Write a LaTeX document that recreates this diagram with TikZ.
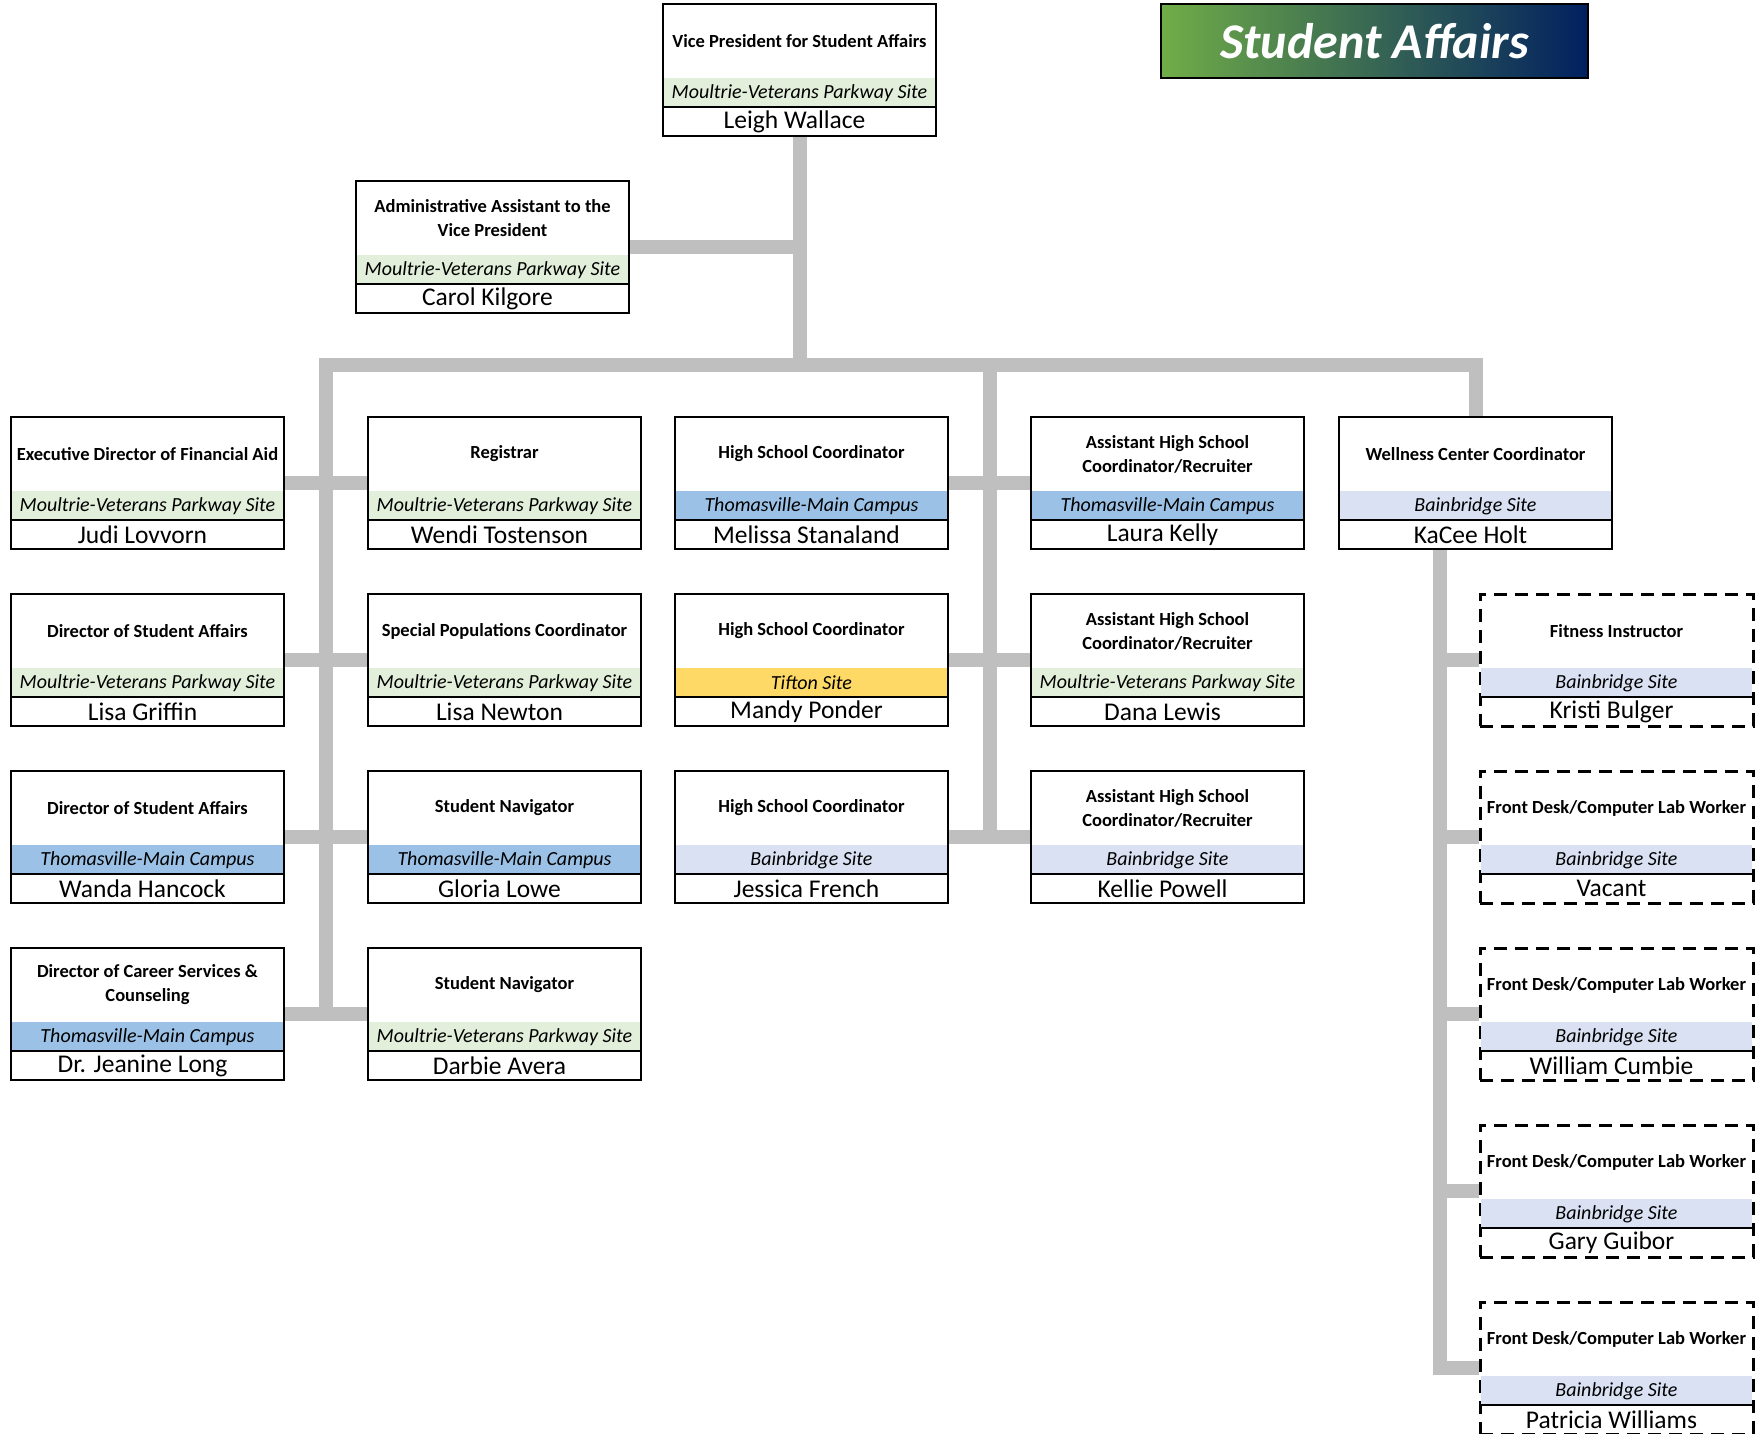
\documentclass[tikz,border=0pt]{standalone}
\usepackage{fontspec}
\setmainfont{Carlito}
\usetikzlibrary{positioning}

\definecolor{sitegreen}{HTML}{E2EFDA}
\definecolor{siteblue}{HTML}{9BC2E6}
\definecolor{sitelav}{HTML}{D9E1F2}
\definecolor{siteyellow}{HTML}{FFD966}
\definecolor{linkgray}{HTML}{BFBFBF}
\definecolor{bannergreen}{HTML}{70AD47}
\definecolor{bannernavy}{HTML}{002060}

\pgfdeclarelayer{bg}
\pgfsetlayers{bg,main}

\tikzset{
  staffframe/.style={draw, fill=white, line width=2.2pt, minimum width=273pt,
    minimum height=132pt, inner sep=0pt},
  dashedframe/.style={line width=3pt, dash pattern=on 13pt off 8pt},
  jobtitle/.style={font=\bfseries\fontsize{18.5}{24}\selectfont, align=center, inner sep=0pt},
  sitename/.style={font=\itshape\fontsize{20}{22}\selectfont, inner sep=0pt},
  personname/.style={font=\fontsize{25.5}{30}\selectfont, inner sep=0pt},
  link/.style={draw=linkgray, line width=14pt},
  banner/.style={draw, line width=2pt, left color=bannergreen, right color=bannernavy,
    minimum width=427pt, minimum height=74pt, text=white,
    font=\bfseries\itshape\fontsize{50}{56}\selectfont}
}

% #1 frame style, #2 name, (#3,#4) top left corner, #5 title, #6 site colour, #7 site, #8 person
\newcommand{\staffbox}[8][]{%
  \node[staffframe,#1] (#2) at (#3+136.5,#4+66) {};
  \fill[#6] (#3+1.2,#4+74) rectangle (#3+271.8,#4+103);
  \draw[line width=2pt] (#3,#4+103) -- (#3+273,#4+103);
  \node[jobtitle] (#2-title) at (#3+136.5,#4+37) {#5};
  \node[sitename] (#2-site) at (#3+136.5,#4+89) {#7};
  \node[personname] (#2-name) at (#3+131.5,#4+117.5) {#8};
}

\begin{document}
\begin{tikzpicture}[x=1pt,y=-1pt]
  \begin{pgfonlayer}{bg}
    \fill[white] (0,0) rectangle (1756,1434);
  \end{pgfonlayer}
  \useasboundingbox (0,0) rectangle (1756,1434);

  % banner
  \node[banner] (banner) at (1374.5,41.5) {Student Affairs};

  % vice president and assistant
  \staffbox{vp}{663}{4}{Vice President for Student Affairs}{sitegreen}{Moultrie-Veterans Parkway Site}{Leigh Wallace}
  \staffbox{asst}{356}{181}{Administrative Assistant to the\\Vice President}{sitegreen}{Moultrie-Veterans Parkway Site}{Carol Kilgore}

  % first row
  \staffbox{finaid}{11}{417}{Executive Director of Financial Aid}{sitegreen}{Moultrie-Veterans Parkway Site}{Judi Lovvorn}
  \staffbox{registrar}{368}{417}{Registrar}{sitegreen}{Moultrie-Veterans Parkway Site}{Wendi Tostenson}
  \staffbox{hsthom}{675}{417}{High School Coordinator}{siteblue}{Thomasville-Main Campus}{Melissa Stanaland}
  \staffbox{ahsthom}{1031}{417}{Assistant High School\\Coordinator/Recruiter}{siteblue}{Thomasville-Main Campus}{Laura Kelly}
  \staffbox{wellness}{1339}{417}{Wellness Center Coordinator}{sitelav}{Bainbridge Site}{KaCee Holt}

  % second row
  \staffbox{dirmv}{11}{594}{Director of Student Affairs}{sitegreen}{Moultrie-Veterans Parkway Site}{Lisa Griffin}
  \staffbox{specpop}{368}{594}{Special Populations Coordinator}{sitegreen}{Moultrie-Veterans Parkway Site}{Lisa Newton}
  \staffbox{hstift}{675}{594}{High School Coordinator}{siteyellow}{Tifton Site}{Mandy Ponder}
  \staffbox{ahsmv}{1031}{594}{Assistant High School\\Coordinator/Recruiter}{sitegreen}{Moultrie-Veterans Parkway Site}{Dana Lewis}

  % third row
  \staffbox{dirthom}{11}{771}{Director of Student Affairs}{siteblue}{Thomasville-Main Campus}{Wanda Hancock}
  \staffbox{navthom}{368}{771}{Student Navigator}{siteblue}{Thomasville-Main Campus}{Gloria Lowe}
  \staffbox{hsbain}{675}{771}{High School Coordinator}{sitelav}{Bainbridge Site}{Jessica French}
  \staffbox{ahsbain}{1031}{771}{Assistant High School\\Coordinator/Recruiter}{sitelav}{Bainbridge Site}{Kellie Powell}

  % fourth row
  \staffbox{career}{11}{948}{Director of Career Services \&\\Counseling}{siteblue}{Thomasville-Main Campus}{Dr. Jeanine Long}
  \staffbox{navmv}{368}{948}{Student Navigator}{sitegreen}{Moultrie-Veterans Parkway Site}{Darbie Avera}

  % wellness center staff
  \staffbox[dashedframe]{fitness}{1480}{594}{Fitness Instructor}{sitelav}{Bainbridge Site}{Kristi Bulger}
  \staffbox[dashedframe]{desk1}{1480}{771}{Front Desk/Computer Lab Worker}{sitelav}{Bainbridge Site}{Vacant}
  \staffbox[dashedframe]{desk2}{1480}{948}{Front Desk/Computer Lab Worker}{sitelav}{Bainbridge Site}{William Cumbie}
  \staffbox[dashedframe]{desk3}{1480}{1125}{Front Desk/Computer Lab Worker}{sitelav}{Bainbridge Site}{Gary Guibor}
  \staffbox[dashedframe]{desk4}{1480}{1302}{Front Desk/Computer Lab Worker}{sitelav}{Bainbridge Site}{Patricia Williams}

  \begin{pgfonlayer}{bg}
    \coordinate (barL) at (326,365);
    \coordinate (hub2) at (989.5,365);
    \coordinate (wspine) at (1439.5,0);
    % vice president down to the main bar
    \draw[link] (vp.south) -- (vp.south |- barL);
    % assistant
    \draw[link] (asst.east) -- (asst.east -| vp.south);
    % main bar with left spine and wellness drop
    \draw[link] (career.east -| barL) -- (barL) -| (wellness.north);
    % spine between the coordinator columns
    \draw[link] (hub2) -- (hsbain.east -| hub2);
    % left stubs
    \draw[link] (finaid.east) -- (registrar.west);
    \draw[link] (dirmv.east) -- (specpop.west);
    \draw[link] (dirthom.east) -- (navthom.west);
    \draw[link] (career.east) -- (navmv.west);
    % coordinator stubs
    \draw[link] (hsthom.east) -- (ahsthom.west);
    \draw[link] (hstift.east) -- (ahsmv.west);
    \draw[link] (hsbain.east) -- (ahsbain.west);
    % wellness spine
    \draw[link] (wspine |- wellness.south) |- (desk4.west);
    \draw[link] (wspine |- fitness.west) -- (fitness.west);
    \draw[link] (wspine |- desk1.west) -- (desk1.west);
    \draw[link] (wspine |- desk2.west) -- (desk2.west);
    \draw[link] (wspine |- desk3.west) -- (desk3.west);
  \end{pgfonlayer}
\end{tikzpicture}
\end{document}
